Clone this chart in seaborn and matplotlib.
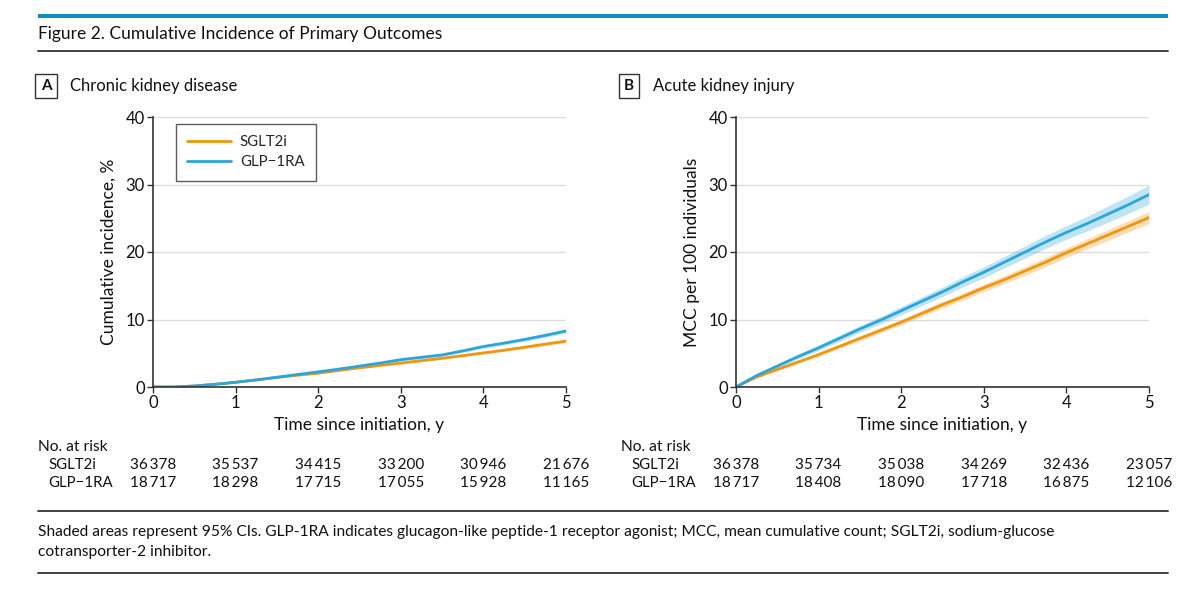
import numpy as np
import matplotlib
matplotlib.use("Agg")
import matplotlib.pyplot as plt
import seaborn as sns
from matplotlib.patches import Rectangle
from matplotlib.lines import Line2D
from matplotlib.transforms import blended_transform_factory

# values
years = [0, 0.25, 0.5, 0.75, 1, 1.25, 1.5, 1.75, 2, 2.25, 2.5,
         2.75, 3, 3.25, 3.5, 3.75, 4, 4.25, 4.5, 4.75, 5]

ckd_sglt2i = [0, 0, 0.15, 0.4, 0.7, 1.05, 1.4, 1.75, 2.05, 2.45, 2.85,
              3.2, 3.55, 3.9, 4.25, 4.65, 5.05, 5.45, 5.9, 6.35, 6.8]
ckd_glp1ra = [0, 0, 0.15, 0.4, 0.7, 1.05, 1.45, 1.85, 2.25, 2.65, 3.1,
              3.55, 4.05, 4.4, 4.75, 5.35, 6.0, 6.5, 7.05, 7.65, 8.3]
ckd_sglt2i_ci = [0, 0, 0.03, 0.04, 0.05, 0.06, 0.07, 0.08, 0.09, 0.1, 0.11,
                 0.12, 0.13, 0.14, 0.15, 0.16, 0.17, 0.18, 0.2, 0.22, 0.24]
ckd_glp1ra_ci = [0, 0, 0.03, 0.05, 0.07, 0.08, 0.1, 0.11, 0.12, 0.13, 0.15,
                 0.16, 0.17, 0.18, 0.2, 0.21, 0.23, 0.25, 0.27, 0.3, 0.32]

aki_sglt2i = [0, 1.5, 2.6, 3.7, 4.8, 6.0, 7.2, 8.4, 9.6, 10.9, 12.2,
              13.4, 14.7, 15.9, 17.2, 18.5, 19.9, 21.2, 22.5, 23.8, 25.1]
aki_glp1ra = [0, 1.7, 3.1, 4.5, 5.8, 7.2, 8.6, 9.9, 11.3, 12.7, 14.1,
              15.6, 17.0, 18.5, 20.0, 21.5, 22.9, 24.2, 25.6, 27.0, 28.5]
aki_sglt2i_ci = [0, 0.15, 0.2, 0.25, 0.3, 0.3, 0.35, 0.4, 0.4, 0.45, 0.5,
                 0.5, 0.55, 0.6, 0.65, 0.7, 0.7, 0.75, 0.8, 0.85, 0.9]
aki_glp1ra_ci = [0, 0.2, 0.3, 0.35, 0.4, 0.45, 0.5, 0.55, 0.6, 0.65, 0.7,
                 0.75, 0.8, 0.85, 0.9, 0.95, 1.0, 1.1, 1.2, 1.3, 1.4]

risk_years = [0, 1, 2, 3, 4, 5]
ckd_risk_sglt2i = [36378, 35537, 34415, 33200, 30946, 21676]
ckd_risk_glp1ra = [18717, 18298, 17715, 17055, 15928, 11165]
aki_risk_sglt2i = [36378, 35734, 35038, 34269, 32436, 23057]
aki_risk_glp1ra = [18717, 18408, 18090, 17718, 16875, 12106]

groups = ["SGLT2i", "GLP\u22121RA"]
orange = "#F0960F"
blue = "#2BA6DC"
dark = "#333333"
ink = "#111111"

sns.set_theme(style="white")
plt.rcParams["font.family"] = ["Lato", "DejaVu Sans"]

W, H = 1199, 590
fig = plt.figure(figsize=(W / 100, H / 100), dpi=100)


def fx(px):
    return px / W


def fy(py):
    return 1 - py / H


# header / footer decorations
fig.add_artist(Rectangle((fx(38), fy(18)), fx(1168) - fx(38), fy(14) - fy(18),
                         transform=fig.transFigure, color="#0E8DBF", lw=0))
fig.text(fx(38), fy(34), "Figure 2. Cumulative Incidence of Primary Outcomes",
         fontsize=12.5, va="center", ha="left", color=ink)
for yy in (51, 511, 573):
    fig.add_artist(Line2D([fx(38), fx(1168)], [fy(yy), fy(yy)],
                          transform=fig.transFigure, color=dark, lw=1.3))

fig.text(fx(38), fy(532),
         "Shaded areas represent 95% CIs. GLP-1RA indicates glucagon-like peptide-1 receptor agonist; "
         "MCC, mean cumulative count; SGLT2i, sodium-glucose",
         fontsize=11.2, va="center", ha="left", color=ink)
fig.text(fx(38), fy(552), "cotransporter-2 inhibitor.",
         fontsize=11.2, va="center", ha="left", color=ink)

panels = [
    dict(left=153, letter="A", title="Chronic kidney disease",
         ylabel="Cumulative incidence, %",
         series=[(ckd_sglt2i, ckd_sglt2i_ci), (ckd_glp1ra, ckd_glp1ra_ci)],
         risk=[ckd_risk_sglt2i, ckd_risk_glp1ra], legend=True),
    dict(left=736, letter="B", title="Acute kidney injury",
         ylabel="MCC per 100 individuals",
         series=[(aki_sglt2i, aki_sglt2i_ci), (aki_glp1ra, aki_glp1ra_ci)],
         risk=[aki_risk_sglt2i, aki_risk_glp1ra], legend=False),
]

for p in panels:
    ax = fig.add_axes([fx(p["left"]), fy(387), 413 / W, 270 / H])
    for (vals, ci), name, col in zip(p["series"], groups, [orange, blue]):
        v = np.array(vals)
        c = np.array(ci)
        ax.fill_between(years, v - c, v + c, color=col, alpha=0.3, lw=0)
        sns.lineplot(x=years, y=vals, ax=ax, color=col, lw=2, label=name)

    ax.set_xlim(0, 5)
    ax.set_ylim(0, 40)
    ax.set_xticks(range(6))
    ax.set_yticks(range(0, 41, 10))
    ax.yaxis.grid(True, color="#DDDDDD", lw=1)
    ax.set_axisbelow(True)
    sns.despine(ax=ax)
    for s in ("left", "bottom"):
        ax.spines[s].set_color(dark)
        ax.spines[s].set_linewidth(1.2)
    ax.tick_params(axis="both", which="both", direction="out", length=4, width=1,
                   color=dark, labelsize=12, labelcolor=ink, pad=2,
                   bottom=True, left=True)
    ax.set_xlabel("Time since initiation, y", fontsize=12.5, labelpad=4, color=ink)
    ax.set_ylabel(p["ylabel"], fontsize=12.5, labelpad=6, color=ink)

    if p["legend"]:
        leg = ax.legend(loc="upper left", bbox_to_anchor=(0.056, 0.974), borderaxespad=0,
                        frameon=True, fancybox=False, fontsize=10.8, handlelength=2.9,
                        borderpad=0.75, labelspacing=0.4, handletextpad=0.6)
        leg.get_frame().set_edgecolor(dark)
        leg.get_frame().set_linewidth(1.0)
    else:
        ax.legend_.remove()

    # panel label
    lx = p["left"] - 115
    fig.text(fx(lx + 8), fy(86), p["letter"], fontsize=11, fontweight="bold",
             ha="center", va="center", color=ink,
             bbox=dict(boxstyle="square,pad=0.35", fc="white", ec=dark, lw=1))
    fig.text(fx(lx + 32), fy(86), p["title"], fontsize=12, ha="left", va="center",
             color=ink)

    # number at risk table
    fig.text(fx(p["left"] - 115), fy(447), "No. at risk", fontsize=11.2,
             ha="left", va="center", color=ink)
    tr = blended_transform_factory(ax.transData, fig.transFigure)
    for row, (name, counts) in enumerate(zip(groups, p["risk"])):
        yy = 465 + 18 * row
        fig.text(fx(p["left"] - 105), fy(yy), name, fontsize=10.8,
                 ha="left", va="center", color=ink)
        for t, n in zip(risk_years, counts):
            ax.text(t, fy(yy), f"{n:,}".replace(",", "\u2009"), transform=tr,
                    fontsize=11, ha="center", va="center", color=ink,
                    clip_on=False)

fig.savefig("out.png", dpi=100)
